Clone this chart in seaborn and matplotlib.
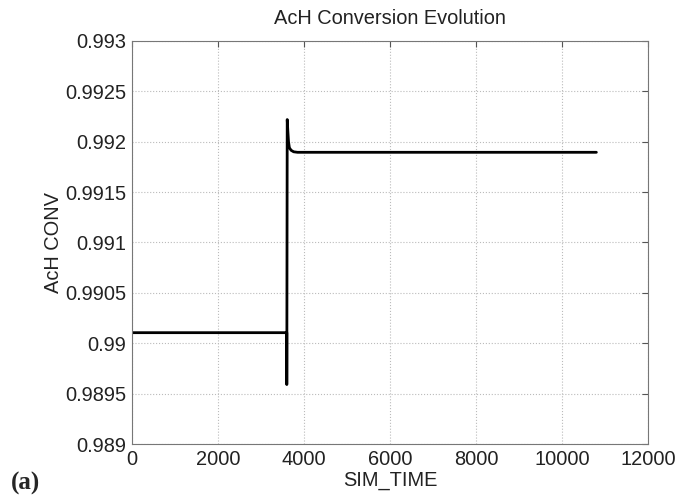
import pandas as pd
import seaborn as sns
import matplotlib.pyplot as plt

# simulation trace
sim_time = [0, 3600, 3600, 3610, 3625, 3640, 3660, 3700, 3760, 3850, 10800]
ach_conv = [0.990105, 0.990105, 0.98959, 0.99222, 0.99210, 0.99200, 0.99194,
            0.991915, 0.991900, 0.991895, 0.991895]

x_ticks = [0, 2000, 4000, 6000, 8000, 10000, 12000]
y_ticks = [0.989, 0.9895, 0.990, 0.9905, 0.991, 0.9915, 0.992, 0.9925, 0.993]
y_labels = ['0.989', '0.9895', '0.99', '0.9905', '0.991', '0.9915', '0.992', '0.9925', '0.993']

df = pd.DataFrame({'SIM_TIME': sim_time, 'AcH CONV': ach_conv})

sns.set_style('white')
plt.rcParams['font.family'] = ['Liberation Sans', 'DejaVu Sans']

fig = plt.figure(figsize=(6.78, 4.97), dpi=100)
ax = fig.add_axes([0.1947, 0.1066, 0.761, 0.811])

sns.lineplot(x='SIM_TIME', y='AcH CONV', data=df, sort=False, estimator=None,
             color='black', linewidth=2, ax=ax)

ax.set_xlim(0, 12000)
ax.set_ylim(0.989, 0.993)
ax.set_xticks(x_ticks)
ax.set_yticks(y_ticks)
ax.set_yticklabels(y_labels)
ax.tick_params(direction='in', length=4, labelsize=14.4, colors='#555555',
               labelcolor='#222222', top=True, right=True)
ax.tick_params(axis='x', pad=4)
ax.tick_params(axis='y', pad=4)
ax.grid(True, linestyle=':', color='#bbbbbb', linewidth=0.8)
for s in ax.spines.values():
    s.set_color('#777777')
    s.set_linewidth(0.8)

ax.set_title('AcH Conversion Evolution', fontsize=14.4, color='#222222', pad=12)
ax.set_xlabel('SIM_TIME', fontsize=14.4, color='#222222', labelpad=2)
ax.set_ylabel('AcH CONV', fontsize=14.4, color='#222222', labelpad=2)

fig.text(0.016, 0.014, '(a)', fontsize=18, fontweight='bold', family='Liberation Serif')

fig.savefig('out.png', dpi=100)
